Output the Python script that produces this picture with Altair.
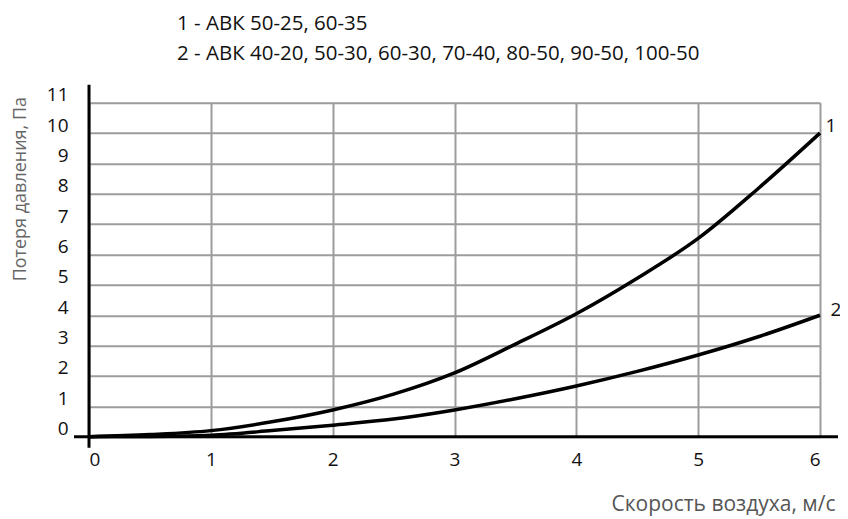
import altair as alt
import pandas as pd

# Data
speed = [0, 0.5, 1, 1.5, 2, 2.5, 3, 3.5, 4, 4.5, 5, 5.5, 6]
curve1 = [0, 0.07, 0.2, 0.49, 0.88, 1.4, 2.1, 3.05, 4.05, 5.22, 6.53, 8.2, 10.0]
curve2 = [0, 0.01, 0.05, 0.2, 0.38, 0.58, 0.88, 1.25, 1.67, 2.15, 2.69, 3.3, 4.0]
series_names = ["1", "2"]
legend_lines = [
    "1 - АВК 50-25, 60-35",
    "2 - АВК 40-20, 50-30, 60-30, 70-40,  80-50, 90-50, 100-50",
]
x_title = "Скорость воздуха, м/с"
y_title = "Потеря давления, Па"
x_ticks = [0, 1, 2, 3, 4, 5, 6]
y_ticks = [0, 1, 2, 3, 4, 5, 6, 7, 8, 9, 10, 11]

FONT = "Open Sans"
W, H = 731, 334

rows = []
for name, vals in zip(series_names, [curve1, curve2]):
    for s, v in zip(speed, vals):
        rows.append({"speed": s, "loss": v, "series": name})
df = pd.DataFrame(rows)

ends = pd.DataFrame({
    "speed": [speed[-1], speed[-1]],
    "loss": [curve1[-1], curve2[-1]],
    "series": series_names,
})

xs = alt.Scale(domain=[0, 6], nice=False)
ys = alt.Scale(domain=[0, 11], nice=False)

x_axis = alt.Axis(
    values=x_ticks, format="d", grid=True, gridColor="#9c9c9c", gridWidth=2,
    domain=False, ticks=False, labelFont=FONT, labelFontSize=19,
    labelColor="#111111", labelPadding=14, labelOverlap=False, title=x_title,
    titleFont=FONT, titleFontSize=21, titleFontWeight="normal",
    titleColor="#555555", titleX=746, titleY=68, titleAlign="right",
    titleBaseline="middle",
)
y_axis = alt.Axis(
    values=y_ticks, format="d", grid=True, gridColor="#9c9c9c", gridWidth=2,
    domain=False, ticks=False, labelFont=FONT, labelFontSize=19,
    labelColor="#111111", labelPadding=21, labelOffset=-8, labelOverlap=False,
    title=y_title, titleFont=FONT, titleFontSize=18,
    titleFontWeight="normal", titleColor="#666666", titleX=-69,
    titleY=86, titleAngle=270, titleAlign="center", titleBaseline="middle",
)

X = alt.X("speed:Q", scale=xs, axis=x_axis)
Y = alt.Y("loss:Q", scale=ys, axis=y_axis)

lines = alt.Chart(df).mark_line(
    color="black", strokeWidth=3.5, interpolate="monotone"
).encode(x=X, y=Y, detail="series:N")

# axis lines (extend beyond plot like the reference)
x_line = alt.Chart(pd.DataFrame({"a": [0]})).mark_rule(
    color="black", strokeWidth=3
).encode(x=alt.value(-15), x2=alt.value(W + 18), y=alt.value(H))
y_line = alt.Chart(pd.DataFrame({"a": [0]})).mark_rule(
    color="black", strokeWidth=3
).encode(x=alt.value(0), y=alt.value(-18), y2=alt.value(H + 11))

lab1 = alt.Chart(ends[ends.series == "1"]).mark_text(
    font=FONT, fontSize=19, color="#111111", dx=11, dy=-7, align="center",
    baseline="middle",
).encode(x=X, y=Y, text="series:N")
lab2 = alt.Chart(ends[ends.series == "2"]).mark_text(
    font=FONT, fontSize=19, color="#111111", dx=16, dy=-5, align="center",
    baseline="middle",
).encode(x=X, y=Y, text="series:N")

leg1 = alt.Chart(pd.DataFrame({"t": [legend_lines[0]]})).mark_text(
    font=FONT, fontSize=20.5, color="#111111", align="left", baseline="middle",
).encode(x=alt.value(88), y=alt.value(-79), text="t:N")
leg2 = alt.Chart(pd.DataFrame({"t": [legend_lines[1]]})).mark_text(
    font=FONT, fontSize=20.5, color="#111111", align="left", baseline="middle",
).encode(x=alt.value(88), y=alt.value(-49), text="t:N")

chart = alt.layer(lines, x_line, y_line, lab1, lab2, leg1, leg2).properties(
    width=W, height=H,
    autosize=alt.AutoSizeParams(type="none"),
    padding={"left": 81, "top": 94.7, "right": 20, "bottom": 80},
).configure_view(stroke=None).configure(background="white")

chart.save("out.html", embed_options={"renderer": "svg", "actions": False})
